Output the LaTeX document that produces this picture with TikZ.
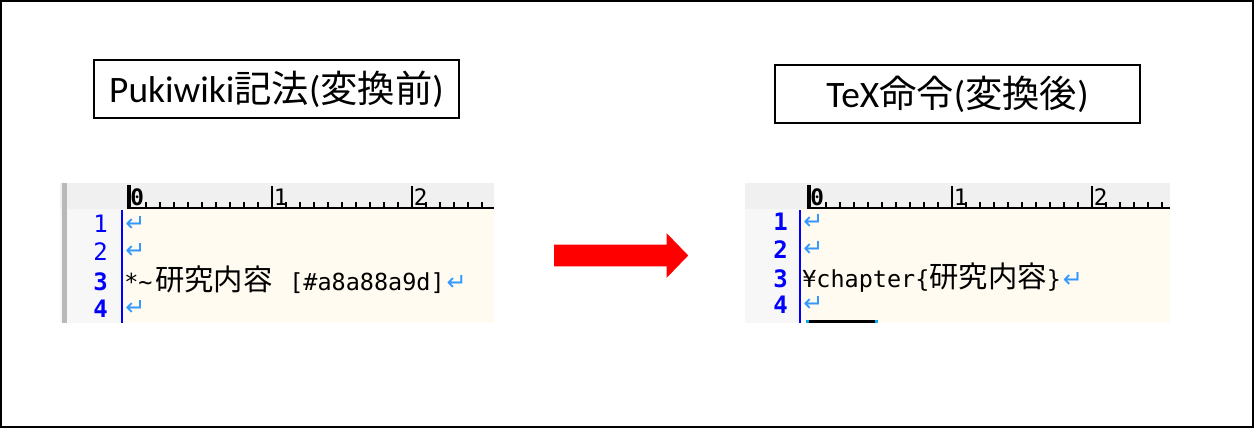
\documentclass[tikz,border=0pt]{standalone}
\usepackage{fontspec}
\setmainfont{Carlito}
\newfontfamily\cjk{Noto Sans CJK JP}
\newfontfamily\mono{DejaVu Sans Mono}
\newfontfamily\sym{DejaVu Sans}
\usetikzlibrary{shapes.arrows}
\definecolor{editbg}{HTML}{FFFBF0}
\definecolor{rulerbg}{HTML}{F0F0F0}
\definecolor{gutterbg}{HTML}{F7F7F7}
\definecolor{linenum}{HTML}{0000FF}
\definecolor{retmark}{HTML}{3399FF}
\tikzset{
  titlebox/.style={draw=black,line width=1.4pt,minimum width=274pt,minimum height=43.5pt,
    inner sep=0pt,font=\fontsize{28}{30}\selectfont},
  lnum/.style={font=\mono\fontsize{18}{18}\selectfont,text=linenum,anchor=base east,inner sep=0pt},
  codetxt/.style={font=\mono\fontsize{17.6}{18}\selectfont,anchor=base west,inner sep=0pt},
  retm/.style={font=\sym\fontsize{18}{18}\selectfont,text=retmark,anchor=base west,inner sep=0pt},
  rulenum/.style={font=\mono\fontsize{17}{17}\selectfont,anchor=base west,inner sep=0pt},
  bigarrow/.style={single arrow,fill=red,draw=none,minimum height=100.5pt,minimum width=33pt,
    inner xsep=0pt,inner ysep=7.9pt,single arrow head extend=8.6pt,single arrow tip angle=92}
}
\begin{document}
\begin{tikzpicture}[x=0.75pt,y=-0.75pt]
    \useasboundingbox (0,0) rectangle (1254,428);
    \draw[line width=1.3pt] (1,1) rectangle (1253,427);

    % titles
    \node[titlebox] (before) at (276.5,89) {Pukiwiki{\cjk 記法}({\cjk 変換前})};
    \node[titlebox] (after) at (957.5,94) {TeX{\cjk 命令}({\cjk 変換後})};

    % left editor
    \fill[rulerbg] (60,183) rectangle (494,209);
    \fill[gutterbg] (60,209) rectangle (122,323);
    \fill[editbg] (122,209) rectangle (494,323);
    \fill[gray!55] (62,183) rectangle (67,323);
    \draw[line width=1.5pt] (127,208) -- (494,208);
    \foreach \k in {1,...,25}
        \draw[line width=0.9pt] ({132+14*\k},202) -- ({132+14*\k},208);
    \fill (127,185) rectangle (131,209);
    \node[rulenum,font=\mono\bfseries\fontsize{17}{17}\selectfont] (l0) at (130,205) {0};
    \draw[line width=1pt] (272,186) -- (272,208);
    \draw[line width=1pt] (412,186) -- (412,208);
    \node[rulenum] (l1) at (273.5,205) {1};
    \node[rulenum] (l2) at (413.5,205) {2};
    \draw[linenum,line width=1.5pt] (122,210) -- (122,323);
    \node[lnum] (ln1) at (108,232) {1};
    \node[lnum] (ln2) at (108,260) {2};
    \node[lnum,font=\mono\bfseries\fontsize{18}{18}\selectfont] (ln3) at (108,290) {3};
    \node[lnum,font=\mono\bfseries\fontsize{18}{18}\selectfont] (ln4) at (108,317) {4};
    \node[retm] (lr1) at (125,231) {↵};
    \node[retm] (lr2) at (125,258) {↵};
    \node[codetxt] (lc3) at (124,290) {*\string~\hspace{2pt}{\cjk\fontsize{22}{22}\selectfont 研究内容}\hspace{2pt} [\#a8a88a9d]};
    \node[retm,xshift=1pt] (lr3) at (lc3.base east) {↵};
    \node[retm] (lr4) at (125,315) {↵};

    % arrow
    \node[bigarrow] (conv) at (616,255.5) {};

    % right editor
    \fill[rulerbg] (745,183) rectangle (1170,209);
    \fill[gutterbg] (745,209) rectangle (800,323);
    \fill[editbg] (800,209) rectangle (1170,323);
    \draw[line width=1.5pt] (807,208) -- (1170,208);
    \foreach \k in {1,...,25}
        \draw[line width=0.9pt] ({812+14*\k},202) -- ({812+14*\k},208);
    \fill (807,185) rectangle (811,209);
    \node[rulenum,font=\mono\bfseries\fontsize{17}{17}\selectfont] (r0) at (810,205) {0};
    \draw[line width=1pt] (952,186) -- (952,208);
    \draw[line width=1pt] (1092,186) -- (1092,208);
    \node[rulenum] (r1) at (953.5,205) {1};
    \node[rulenum] (r2) at (1093.5,205) {2};
    \draw[linenum,line width=1.5pt] (800,210) -- (800,323);
    \node[lnum,font=\mono\bfseries\fontsize{18}{18}\selectfont] (rn1) at (788,230) {1};
    \node[lnum,font=\mono\bfseries\fontsize{18}{18}\selectfont] (rn2) at (788,258) {2};
    \node[lnum,font=\mono\bfseries\fontsize{18}{18}\selectfont] (rn3) at (788,287) {3};
    \node[lnum,font=\mono\bfseries\fontsize{18}{18}\selectfont] (rn4) at (788,313) {4};
    \node[retm] (rr1) at (803,229) {↵};
    \node[retm] (rr2) at (803,256) {↵};
    \node[codetxt] (rc3) at (802,287) {¥chapter\{{\cjk\fontsize{22}{22}\selectfont 研究内容}\}};
    \node[retm,xshift=1pt] (rr3) at (rc3.base east) {↵};
    \node[retm] (rr4) at (803,311) {↵};
    \fill[cyan] (806,320) rectangle (878,323);
    \fill (809,320) rectangle (875,323);
\end{tikzpicture}
\end{document}
